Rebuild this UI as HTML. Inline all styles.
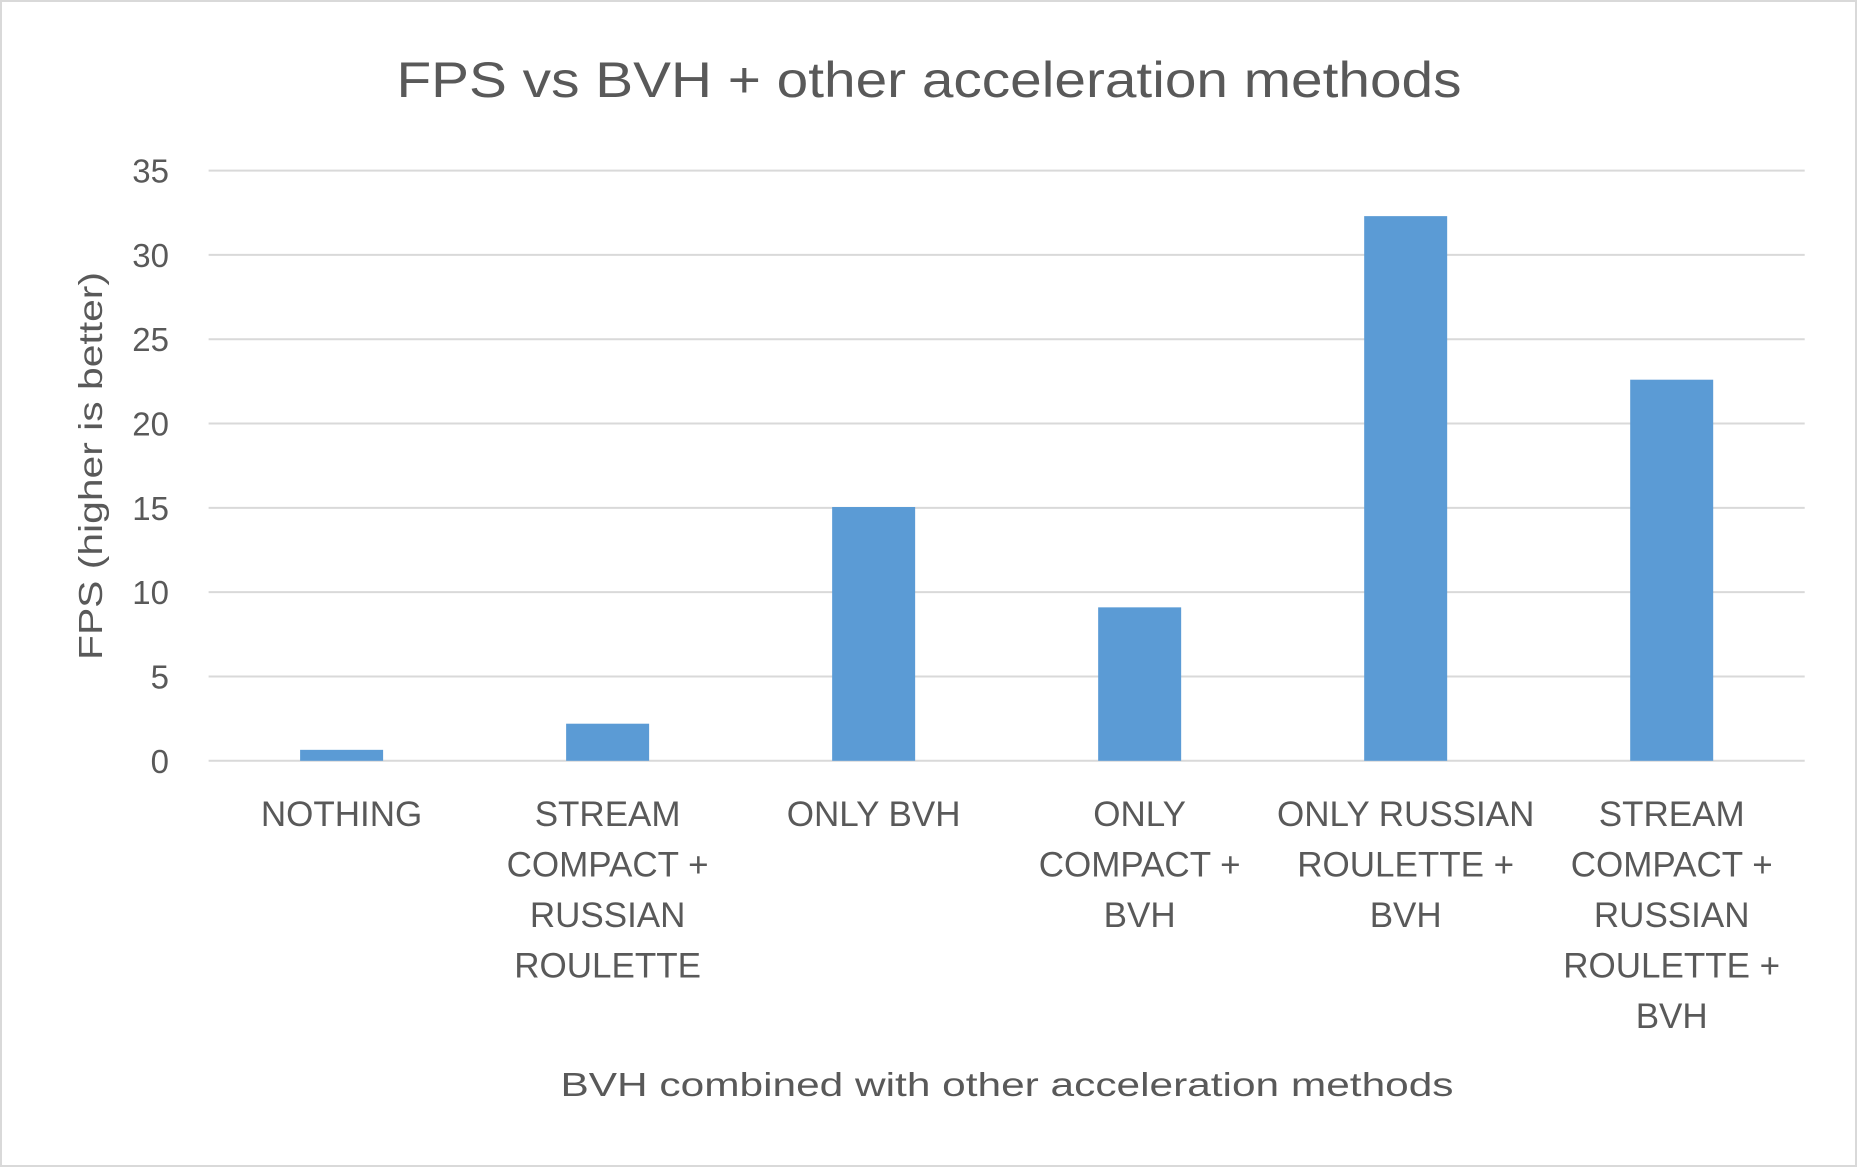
<!DOCTYPE html>
<html><head><meta charset="utf-8"><style>
html,body{margin:0;padding:0;background:#fff;}
svg{display:block;font-family:"Liberation Sans",sans-serif;}
</style></head><body>
<svg id="chart" width="1858" height="1168" viewBox="0 0 1858 1168">
<rect x="1" y="1" width="1855" height="1165" fill="#fff" stroke="#d9d9d9" stroke-width="2"/>
<text x="929" y="97" text-anchor="middle" font-size="50" fill="#595959" textLength="1065" lengthAdjust="spacingAndGlyphs">FPS vs BVH + other acceleration methods</text>
<g id="grid"></g><g id="bars"></g><g id="yt"></g><g id="xt"></g>
<text transform="translate(102,466) rotate(-90)" text-anchor="middle" font-size="33" fill="#595959" textLength="388" lengthAdjust="spacingAndGlyphs">FPS (higher is better)</text>
<text x="1007" y="1096" text-anchor="middle" font-size="33" fill="#595959" textLength="893" lengthAdjust="spacingAndGlyphs">BVH combined with other acceleration methods</text>
</svg>
<script>
const categories=[["NOTHING"],["STREAM","COMPACT +","RUSSIAN","ROULETTE"],["ONLY BVH"],["ONLY","COMPACT +","BVH"],["ONLY RUSSIAN","ROULETTE +","BVH"],["STREAM","COMPACT +","RUSSIAN","ROULETTE +","BVH"]];
const values=[0.65,2.2,15.05,9.1,32.3,22.6];
const yTicks=[0,5,10,15,20,25,30,35];
const NS="http://www.w3.org/2000/svg";
const X0=208.6,X1=1804.7,Y0=760.8,Y1=170.6,YMAX=35;
function y(v){return Y0-(v/YMAX)*(Y0-Y1);}
const bw=(X1-X0)/categories.length;
function xc(i){return X0+bw*(i+0.5);}
function mk(t,a,p){const e=document.createElementNS(NS,t);for(const k in a)e.setAttribute(k,a[k]);p.appendChild(e);return e;}
const grid=document.getElementById('grid'),bars=document.getElementById('bars'),yt=document.getElementById('yt'),xt=document.getElementById('xt');
yTicks.forEach(t=>{
 const l=mk('line',{x1:X0,x2:X1,y1:y(t),y2:y(t),stroke:'#d9d9d9','stroke-width':2},grid);
 
 
 const tx=mk('text',{x:169,y:y(t)+12,'text-anchor':'end','font-size':33,fill:'#595959'},yt);
 tx.textContent=t;
 
 
});
values.forEach((v,i)=>{
 const w=83;
 const r=mk('rect',{x:xc(i)-w/2,y:y(v),width:w,height:Y0-y(v),fill:'#5b9bd5'},bars);
 
 
});
categories.forEach((lines,i)=>{
 const t=mk('text',{x:xc(i),y:826,'text-anchor':'middle','font-size':35,fill:'#595959'},xt);
 
 
 lines.forEach((s,j)=>{const ts=mk('tspan',{x:xc(i),y:826+j*50.5},t);ts.textContent=s;});
});
</script>
</body></html>
